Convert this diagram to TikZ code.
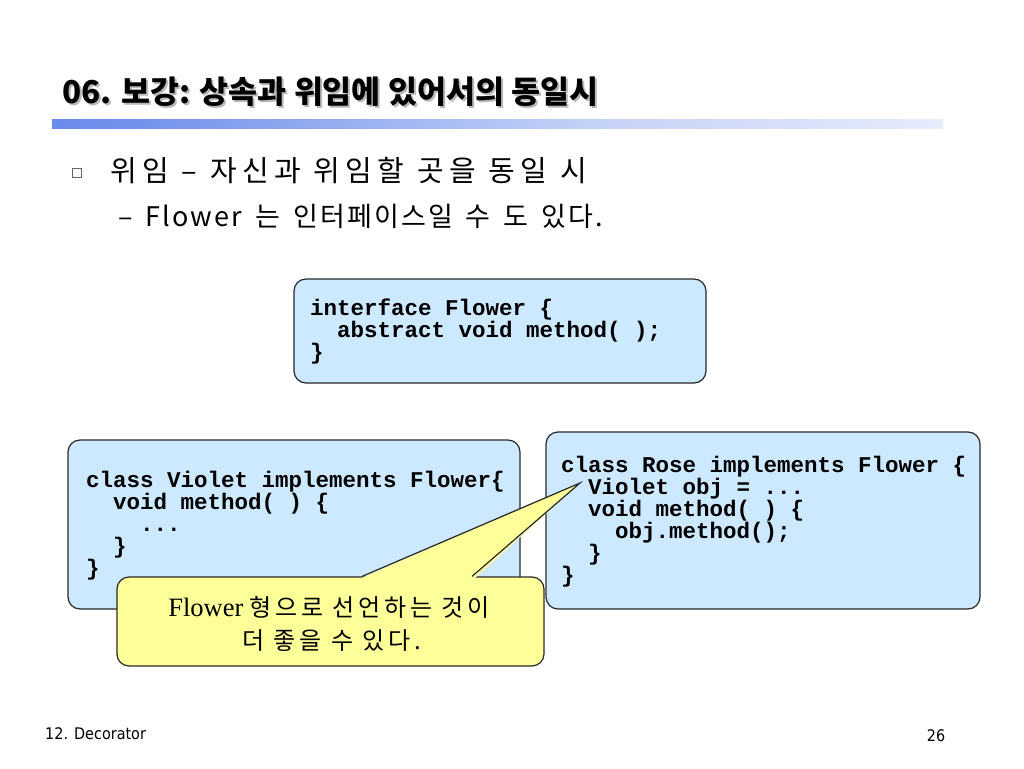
\documentclass[tikz,border=0pt]{standalone}
\usepackage{fontspec}
\setmainfont{Liberation Serif}
\setmonofont{Liberation Mono}
\newfontfamily\kr{Noto Sans CJK KR}
\newfontfamily\tah{DejaVu Sans Condensed}
\usetikzlibrary{calc,shadows}
\definecolor{boxblue}{RGB}{205,233,255}
\definecolor{callyellow}{RGB}{255,255,153}
\definecolor{barblue}{RGB}{55,100,228}
\definecolor{edgegray}{RGB}{40,40,40}
\pgfdeclarehorizontalshading{titlebar}{100bp}{
  color(0bp)=(barblue);
  color(30bp)=(barblue!70!white);
  color(55bp)=(barblue!30!white);
  color(80bp)=(barblue!8!white);
  color(100bp)=(white)}
\newcommand{\krsize}[3]{\kr\addfontfeatures{LetterSpace=#3}\fontsize{#1}{#1}\selectfont\spaceskip=#2pt\relax}
\tikzset{
  codebox/.style={draw=edgegray, line width=1.2pt, fill=boxblue, rounded corners=12pt, inner sep=0pt},
  callbox/.style={draw=edgegray, line width=1.2pt, fill=callyellow, rounded corners=12pt, inner sep=0pt},
  code/.style={anchor=base west, inner sep=0pt, align=left, font=\ttfamily\bfseries\fontsize{22.5}{22}\selectfont},
  krtext/.style={anchor=base west, inner sep=0pt},
  foot/.style={inner sep=0pt, font=\tah\fontsize{16}{18}\selectfont}
}
\begin{document}
\begin{tikzpicture}[x=1pt,y=-1pt]
\useasboundingbox (0,0) rectangle (1024,768);
\fill[white] (0,0) rectangle (1024,768);
% title
\node[anchor=base west, inner sep=0pt, text=gray!55, font=\kr\bfseries\fontsize{31.5}{34}\selectfont] (titleshadow) at (64,105) {06. 보강: 상속과 위임에 있어서의 동일시};
\node[anchor=base west, inner sep=0pt, font=\kr\bfseries\fontsize{31.5}{34}\selectfont] (title) at (62,103) {06. 보강: 상속과 위임에 있어서의 동일시};
\shade[shading=titlebar] (52,119) rectangle (943,128);
% bullets
\node[draw=gray!80!black, fill=white, line width=0.6pt, minimum size=8.5pt, inner sep=0pt, drop shadow={shadow xshift=1.2pt, shadow yshift=-1.2pt, fill=gray!70}] (sq) at (77,173) {};
\node[krtext, font=\krsize{29}{13}{18}] (b1) at (110,181) {위임 – 자신과 위임할 곳을 동일 시};
\node[krtext, font=\krsize{27}{13}{8}] (b2) at (118,226) {– Flower 는 인터페이스일 수 도 있다.};
% boxes (multi-line code nodes: base anchor = last line's baseline)
\node[codebox, minimum width=412pt, minimum height=104pt] (iface) at (500,331) {};
\node[code] (ifacetext) at (310,359) {interface Flower \{\\\phantom{xx}abstract void method( );\\\}};
\node[codebox, minimum width=452pt, minimum height=169pt] (violet) at (294,524.5) {};
\node[code] (violettext) at (86,575) {class Violet implements Flower\{\\\phantom{xx}void method( ) \{\\\phantom{xxxx}...\\\phantom{xx}\}\\\}};
\node[codebox, minimum width=434pt, minimum height=177pt] (rose) at (763,520.5) {};
\node[code] (rosetext) at (561,582) {class Rose implements Flower \{\\\phantom{xx}Violet obj = ...\\\phantom{xx}void method( ) \{\\\phantom{xxxx}obj.method();\\\phantom{xx}\}\\\}};
% callout
\coordinate (tip) at (580,483);
\node[callbox, minimum width=427pt, minimum height=89pt] (call) at (330.5,621.5) {};
\fill[callyellow] ($(call.north)+(30,2)$) -- (tip) -- ($(call.north)+(144,2)$) -- cycle;
\draw[edgegray, line width=1.2pt, line join=miter] ($(call.north)+(31.5,0)$) -- (tip) -- ($(call.north)+(141.5,0)$);
\node[anchor=base, inner sep=0pt, font=\fontsize{26.5}{26}\selectfont] (call1) at (329,616) {Flower {\krsize{24}{9}{16}형으로 선언하는 것이}};
\node[anchor=base, inner sep=0pt, font=\krsize{24}{9}{18}] (call2) at (332,649) {더 좋을 수 있다.};
% footer
\node[foot, anchor=base west] (footl) at (45,739) {12. Decorator};
\node[foot, anchor=base] (footr) at (936,741) {26};
\end{tikzpicture}
\end{document}
